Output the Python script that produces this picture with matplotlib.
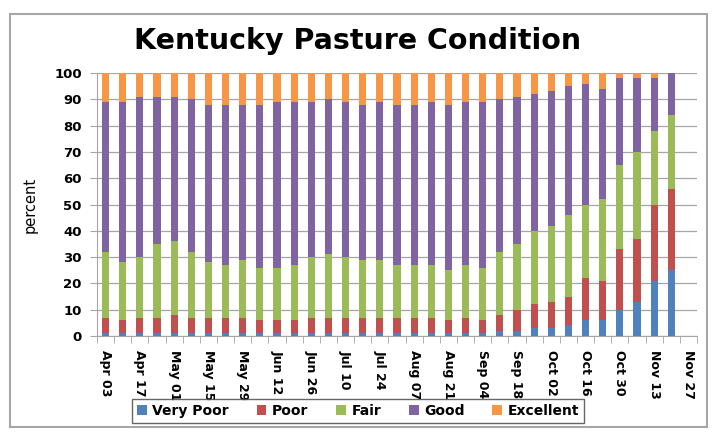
import matplotlib.pyplot as plt
import numpy as np
from matplotlib.patches import Rectangle

plt.style.use("default")

weeks = ["Apr 03", "Apr 10", "Apr 17", "Apr 24", "May 01", "May 08", "May 15", "May 22",
         "May 29", "Jun 05", "Jun 12", "Jun 19", "Jun 26", "Jul 03", "Jul 10", "Jul 17",
         "Jul 24", "Jul 31", "Aug 07", "Aug 14", "Aug 21", "Aug 28", "Sep 04", "Sep 11",
         "Sep 18", "Sep 25", "Oct 02", "Oct 09", "Oct 16", "Oct 23", "Oct 30", "Nov 06",
         "Nov 13", "Nov 20", "Nov 27"]

# Nov 27 has no report yet (empty slot on the axis)
very_poor = [1, 1, 1, 1, 1, 1, 1, 1, 1, 1, 1, 1, 1, 1, 1, 1, 1, 1, 1, 1, 1, 1, 1, 2,
             2, 3, 3, 4, 6, 6, 10, 13, 21, 25]
poor = [6, 5, 6, 6, 7, 6, 6, 6, 6, 5, 5, 5, 6, 6, 6, 6, 6, 6, 6, 6, 5, 6, 5, 6,
        8, 9, 10, 11, 16, 15, 23, 24, 29, 31]
fair = [25, 22, 23, 28, 28, 25, 21, 20, 22, 20, 20, 21, 23, 24, 23, 22, 22, 20, 20, 20, 19, 20, 20, 24,
        25, 28, 29, 31, 28, 31, 32, 33, 28, 28]
good = [57, 61, 61, 56, 55, 58, 60, 61, 59, 62, 63, 62, 59, 59, 59, 59, 60, 61, 61, 62, 63, 62, 63, 58,
        56, 52, 51, 49, 46, 42, 33, 28, 20, 16]
excellent = [11, 11, 9, 9, 9, 10, 12, 12, 12, 12, 11, 11, 11, 10, 11, 12, 11, 12, 12, 11, 12, 11, 11, 10,
             9, 8, 7, 5, 4, 6, 2, 2, 2, 0]

series = [("Very Poor", very_poor, "#4F81BD"),
          ("Poor", poor, "#C0504D"),
          ("Fair", fair, "#9BBB59"),
          ("Good", good, "#8064A2"),
          ("Excellent", excellent, "#F79646")]

fig = plt.figure(figsize=(7.15, 4.33), dpi=100)
ax = fig.add_axes([97 / 715, 1 - 336 / 433, 600 / 715, 263 / 433])

# chart area border
fig.patches.append(Rectangle((10 / 715, 1 - 427 / 433), 697 / 715, 413 / 433,
                             transform=fig.transFigure, fill=False,
                             edgecolor="#A6A6A6", linewidth=1.5))

x = np.arange(len(very_poor))
bottom = np.zeros(len(very_poor))
for name, vals, color in series:
    ax.bar(x, vals, 0.42, bottom=bottom, color=color, label=name, zorder=3)
    bottom += np.array(vals)

ax.set_xlim(-0.5, len(weeks) - 0.5)
ax.set_ylim(0, 100)
ax.set_yticks(np.arange(0, 101, 10))
ax.yaxis.grid(True, color="#A6A6A6", linewidth=0.9, zorder=0)

ax.set_xticks(np.arange(0, len(weeks), 2))
ax.set_xticklabels(weeks[::2], rotation=270, fontsize=9, fontweight="bold")
ax.set_xticks(np.arange(-0.5, len(weeks), 1), minor=True)
ax.tick_params(axis="x", which="major", length=0, pad=10)
ax.tick_params(axis="x", which="minor", length=5, color="#A6A6A6", direction="out")
ax.tick_params(axis="y", length=5, color="#A6A6A6", labelsize=9.5, pad=6)
for lbl in ax.get_yticklabels():
    lbl.set_fontweight("bold")

for side in ["top", "right"]:
    ax.spines[side].set_visible(False)
for side in ["left", "bottom"]:
    ax.spines[side].set_color("#A6A6A6")

ax.set_ylabel("percent", fontsize=10.5, labelpad=12)

fig.text(358 / 715, 1 - 41 / 433, "Kentucky Pasture Condition", ha="center", va="center",
         fontsize=20.5, fontweight="bold")

leg = fig.legend(loc="center", bbox_to_anchor=(358 / 715, 1 - 411 / 433), ncol=5,
                 frameon=True, fancybox=False, edgecolor="#404040",
                 prop={"size": 10, "weight": "bold"}, handlelength=0.7, handleheight=0.7,
                 columnspacing=2.0, handletextpad=0.4, borderpad=0.35, borderaxespad=0)
leg.get_frame().set_linewidth(1.0)

fig.savefig("out.png", dpi=100)
